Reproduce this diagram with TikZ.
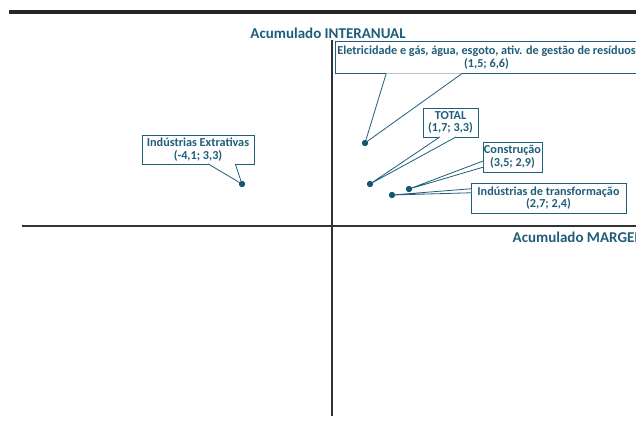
\documentclass[tikz,border=0pt]{standalone}
\usepackage{fontspec}
\setmainfont{Carlito}[BoldFont={Carlito Bold}]
\usetikzlibrary{calc}
\definecolor{tealtxt}{RGB}{31,94,122}
\definecolor{tealdot}{RGB}{22,86,112}
\definecolor{axisgray}{RGB}{50,50,50}
\tikzset{
  axisline/.style={line width=1.6pt, axisgray},
  axistitle/.style={text=tealtxt, font=\bfseries\fontsize{15}{17}\selectfont, inner sep=0pt},
  tag/.style={draw=tealtxt, line width=0.8pt, fill=white, text=tealtxt, align=center,
    font=\bfseries\fontsize{12.2}{12.6}\selectfont, inner sep=0pt},
  ptr/.style={draw=tealtxt, line width=0.8pt, fill=white, line join=miter},
  dot/.style={circle, fill=tealdot, inner sep=0pt, minimum size=6pt}
}
\begin{document}
\begin{tikzpicture}[x=1pt,y=-1pt]
  \useasboundingbox[fill=white] (0,0) rectangle (636,421);
  % heading rule
  \coordinate (rl) at (9,12);
  \coordinate (rr) at (640,12);
  \draw[line width=3.6pt, black!85] (rl) -- (rr);
  % axes
  \coordinate (vtop) at (332,40);
  \coordinate (vbot) at (332,416);
  \coordinate (hl) at (22,226);
  \coordinate (hr) at (640,226);
  \draw[axisline] (vtop) -- (vbot);
  \draw[axisline] (hl) -- (hr);
  \node[axistitle] (tinter) at (328,33) {Acumulado INTERANUAL};
  \node[axistitle, anchor=west] (tmarg) at (512.5,237) {Acumulado MARGEM};
  % points
  \node[dot] (pele) at (365,143) {};
  \node[dot] (ptot) at (370,184) {};
  \node[dot] (pcon) at (409,189) {};
  \node[dot] (ptra) at (392,195) {};
  \node[dot] (pext) at (242,184) {};
  % label boxes
  \node[tag, minimum width=303pt, minimum height=32pt] (bele) at (486.5,57.5)
    {Eletricidade e gás, água, esgoto, ativ. de gestão de resíduos\\(1,5; 6,6)};
  \node[tag, minimum width=55pt, minimum height=29pt] (btot) at (450.5,122.5)
    {TOTAL\\(1,7; 3,3)};
  \node[tag, minimum width=59pt, minimum height=30pt] (bcon) at (512.5,157)
    {Construção\\(3,5; 2,9)};
  \node[tag, minimum width=155pt, minimum height=30pt] (btra) at (548.5,198)
    {Indústrias de transformação\\(2,7; 2,4)};
  \node[tag, minimum width=112pt, minimum height=29pt] (bext) at (198,149.5)
    {Indústrias Extrativas\\(-4,1; 3,3)};
  % pointers
  \path[ptr] ($(bele.south west)!0.17!(bele.south east)+(0,-0.5)$) -- (pele.center)
    -- ($(bele.south west)!0.42!(bele.south east)+(0,-0.5)$);
  \path[ptr] ($(btot.south west)!0.31!(btot.south east)+(0,-0.5)$) -- (ptot.center)
    -- ($(btot.south west)!0.60!(btot.south east)+(0,-0.5)$);
  \path[ptr] ($(bcon.north west)!0.63!(bcon.south west)+(0.5,0)$) -- (pcon.center)
    -- ($(bcon.north west)!0.83!(bcon.south west)+(0.5,0)$);
  \path[ptr] ($(btra.north west)!0.20!(btra.south west)+(0.5,0)$) -- (ptra.center)
    -- ($(btra.north west)!0.33!(btra.south west)+(0.5,0)$);
  \path[ptr] ($(bext.south west)!0.59!(bext.south east)+(0,-0.5)$) -- (pext.center)
    -- ($(bext.south west)!0.83!(bext.south east)+(0,-0.5)$);
  % dots again on top of the pointer tips
  \foreach \p in {pele,ptot,pcon,ptra,pext}
    \fill[tealdot] (\p.center) circle (3pt);
\end{tikzpicture}
\end{document}
